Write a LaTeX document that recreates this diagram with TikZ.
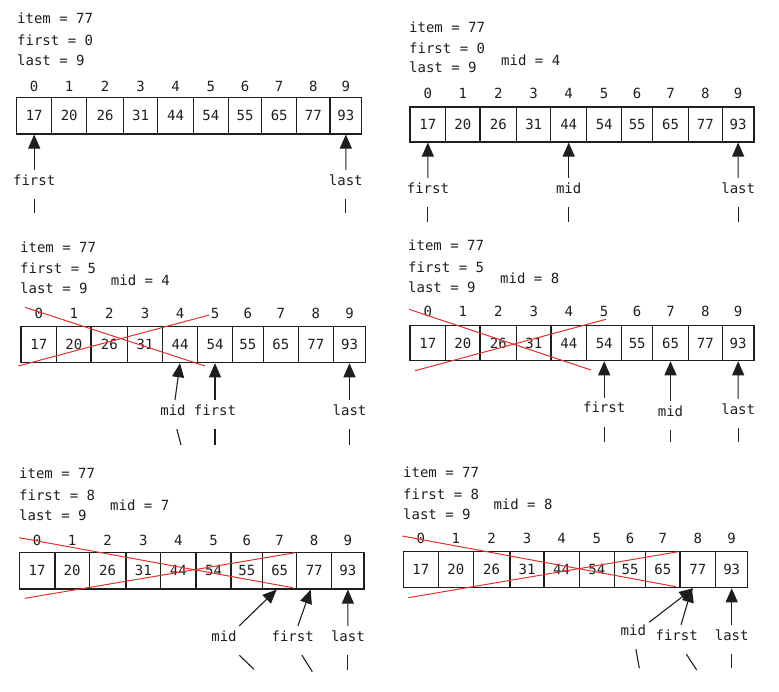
\documentclass[tikz,border=0pt]{standalone}
\usepackage{fontspec}
\newfontfamily\monof{DejaVu Sans Mono}
\usetikzlibrary{arrows.meta}
\definecolor{ink}{HTML}{1E1E1E}
\definecolor{redx}{HTML}{E03131}
\tikzset{
 basefont/.style={font=\monof\fontsize{14}{16}\selectfont, text=ink},
 cell/.style={basefont, draw=ink, line width=1.1pt, inner sep=0pt, anchor=center},
 idx/.style={basefont, inner sep=0pt},
 txt/.style={basefont, inner sep=0pt, anchor=west},
 lbl/.style={basefont, anchor=base, text height=10pt, text depth=9pt, inner ysep=5pt, inner xsep=3pt},
 ln/.style={draw=ink, line width=1.1pt},
 ptr/.style={ln, -{Triangle[length=14pt,width=12pt]}},
 cross/.style={draw=redx, line width=1pt},
}
\newcommand\arrayrow[5]{%
 \foreach \v [count=\i from 0] in {17,20,26,31,44,54,55,65,77,93} {
   \pgfmathsetmacro\xl{{#5}[\i]}
   \pgfmathtruncatemacro\j{\i+1}
   \pgfmathsetmacro\xr{{#5}[\j]}
   \pgfmathsetmacro\w{\xr-\xl}
   \pgfmathsetmacro\h{#3-#2}
   \pgfmathsetmacro\xc{(\xl+\xr)/2}
   \pgfmathsetmacro\yc{(#2+#3)/2}
   \node[cell, minimum width=\w pt, minimum height=\h pt] (#1\i) at (\xc,\yc) {\v};
   \node[idx] (#1i\i) at (\xc,#4) {\i};
 }}
\begin{document}
\begin{tikzpicture}[x=1pt,y=-1pt]
\useasboundingbox (0,0) rectangle (779,691);

% ---------- Panel A ----------
\node[txt] (A-t1) at (17,18) {item = 77};
\node[txt] (A-t2) at (17,40) {first = 0};
\node[txt] (A-t3) at (17,60) {last = 9};
\arrayrow{A}{97.3}{134}{86}{16.7,51.7,86.7,123.3,157.7,193.3,228.3,261.7,296.7,330,361.7}
\node[lbl] (A-first) at (34.2,185) {first};
\node[lbl] (A-last) at (345.8,185) {last};
\coordinate (A-firstb) at (34.2,213);
\coordinate (A-lastb) at (345.8,213);
\draw[ln] (A-firstb) -- (A-first);
\draw[ptr] (A-first) -- (A0.south);
\draw[ln] (A-lastb) -- (A-last);
\draw[ptr] (A-last) -- (A9.south);

% ---------- Panel B ----------
\node[txt] (B-t1) at (409,27) {item = 77};
\node[txt] (B-t2) at (409,48) {first = 0};
\node[txt] (B-t3) at (409,67) {last = 9};
\node[txt] (B-t4) at (501,60) {mid = 4};
\arrayrow{B}{107}{142}{93}{410,445.7,480,516.7,550.7,586.7,621.7,652.7,688.3,722.3,754}
\node[lbl] (B-first) at (427.9,193) {first};
\node[lbl] (B-mid) at (568.7,193) {mid};
\node[lbl] (B-last) at (738.2,193) {last};
\coordinate (B-firstb) at (427.9,222);
\coordinate (B-midb) at (568.7,222);
\coordinate (B-lastb) at (738.2,222);
\draw[ln] (B-firstb) -- (B-first);
\draw[ptr] (B-first) -- (B0.south);
\draw[ln] (B-midb) -- (B-mid);
\draw[ptr] (B-mid) -- (B4.south);
\draw[ln] (B-lastb) -- (B-last);
\draw[ptr] (B-last) -- (B9.south);

% ---------- Panel C ----------
\node[txt] (C-t1) at (20,247) {item = 77};
\node[txt] (C-t2) at (20,268) {first = 5};
\node[txt] (C-t3) at (20,288) {last = 9};
\node[txt] (C-t4) at (110.7,280) {mid = 4};
\arrayrow{C}{326.7}{362.7}{313}{21,56.7,91,127.7,162.3,197.7,232.3,263.3,298.3,333.3,365.7}
\coordinate (C-x1a) at (25,307.3);
\coordinate (C-x1b) at (205,366);
\coordinate (C-x2a) at (18.3,366);
\coordinate (C-x2b) at (209.3,315);
\draw[cross] (C-x1a) -- (C-x1b);
\draw[cross] (C-x2a) -- (C-x2b);
\node[lbl] (C-mid) at (173,415) {mid};
\node[lbl] (C-first) at (215,415) {first};
\node[lbl] (C-last) at (349.5,415) {last};
\coordinate (C-midb) at (181,445);
\coordinate (C-firstb) at (215,445);
\coordinate (C-lastb) at (349.5,445);
\draw[ln] (C-midb) -- (C-mid);
\draw[ptr] (C-mid) -- (C4.south);
\draw[ln] (C-firstb) -- (C-first);
\draw[ptr] (C-first) -- (C5.south);
\draw[ln] (C-lastb) -- (C-last);
\draw[ptr] (C-last) -- (C9.south);

% ---------- Panel D ----------
\node[txt] (D-t1) at (408,245.7) {item = 77};
\node[txt] (D-t2) at (408,267) {first = 5};
\node[txt] (D-t3) at (408,287) {last = 9};
\node[txt] (D-t4) at (500,278) {mid = 8};
\arrayrow{D}{325.7}{360.7}{311.7}{410,445.7,480,516.7,551,586.7,621.7,652.7,688.3,722.3,754}
\coordinate (D-x1a) at (409,309.3);
\coordinate (D-x1b) at (591,370);
\coordinate (D-x2a) at (415,370.7);
\coordinate (D-x2b) at (606,319.3);
\draw[cross] (D-x1a) -- (D-x1b);
\draw[cross] (D-x2a) -- (D-x2b);
\node[lbl] (D-first) at (604.2,412.7) {first};
\node[lbl] (D-mid) at (670.5,416) {mid};
\node[lbl] (D-last) at (738.2,414) {last};
\coordinate (D-firstb) at (604.2,441.7);
\coordinate (D-midb) at (670.5,441.7);
\coordinate (D-lastb) at (738.2,441.7);
\draw[ln] (D-firstb) -- (D-first);
\draw[ptr] (D-first) -- (D5.south);
\draw[ln] (D-midb) -- (D-mid);
\draw[ptr] (D-mid) -- (D7.south);
\draw[ln] (D-lastb) -- (D-last);
\draw[ptr] (D-last) -- (D9.south);

% ---------- Panel E ----------
\node[txt] (E-t1) at (19,473.3) {item = 77};
\node[txt] (E-t2) at (19,495) {first = 8};
\node[txt] (E-t3) at (19,515) {last = 9};
\node[txt] (E-t4) at (110,505.7) {mid = 7};
\arrayrow{E}{552.7}{589}{540}{19.3,55,89.3,126,160.7,196,231,262.7,296.7,331.7,364}
\coordinate (E-x1a) at (19.3,537.7);
\coordinate (E-x1b) at (292.7,587.7);
\coordinate (E-x2a) at (25,598.3);
\coordinate (E-x2b) at (295,552.7);
\draw[cross] (E-x1a) -- (E-x1b);
\draw[cross] (E-x2a) -- (E-x2b);
\node[lbl] (E-mid) at (224,641) {mid};
\node[lbl] (E-first) at (292.7,641) {first};
\node[lbl] (E-last) at (347.9,641) {last};
\coordinate (E-midb) at (254,669.3);
\coordinate (E-firstb) at (312.3,671.7);
\coordinate (E-lastb) at (347.9,670);
\draw[ln] (E-midb) -- (E-mid);
\draw[ptr] (E-mid) -- ([xshift=-3pt]E7.south);
\draw[ln] (E-firstb) -- (E-first);
\draw[ptr] (E-first) -- ([xshift=-3.5pt]E8.south);
\draw[ln] (E-lastb) -- (E-last);
\draw[ptr] (E-last) -- (E9.south);

% ---------- Panel F ----------
\node[txt] (F-t1) at (403,472.3) {item = 77};
\node[txt] (F-t2) at (403,494) {first = 8};
\node[txt] (F-t3) at (403,514) {last = 9};
\node[txt] (F-t4) at (493.3,504.3) {mid = 8};
\arrayrow{F}{551.7}{587.7}{538.3}{403.3,438.3,473.3,510,544,579.3,614.3,645.7,680,715.7,747.7}
\coordinate (F-x1a) at (402.3,536);
\coordinate (F-x1b) at (676,586.7);
\coordinate (F-x2a) at (408.3,597.7);
\coordinate (F-x2b) at (678.3,551.7);
\draw[cross] (F-x1a) -- (F-x1b);
\draw[cross] (F-x2a) -- (F-x2b);
\node[lbl] (F-mid) at (633.3,635) {mid};
\node[lbl] (F-first) at (676.7,640) {first};
\node[lbl] (F-last) at (731.7,640) {last};
\coordinate (F-midb) at (639.3,668.3);
\coordinate (F-firstb) at (696.7,670);
\coordinate (F-lastb) at (731.7,668.3);
\draw[ln] (F-midb) -- (F-mid);
\draw[ptr] (F-mid) -- ([xshift=-4.5pt]F8.south);
\draw[ln] (F-firstb) -- (F-first);
\draw[ptr] (F-first) -- ([xshift=-6pt]F8.south);
\draw[ln] (F-lastb) -- (F-last);
\draw[ptr] (F-last) -- (F9.south);
\end{tikzpicture}
\end{document}
